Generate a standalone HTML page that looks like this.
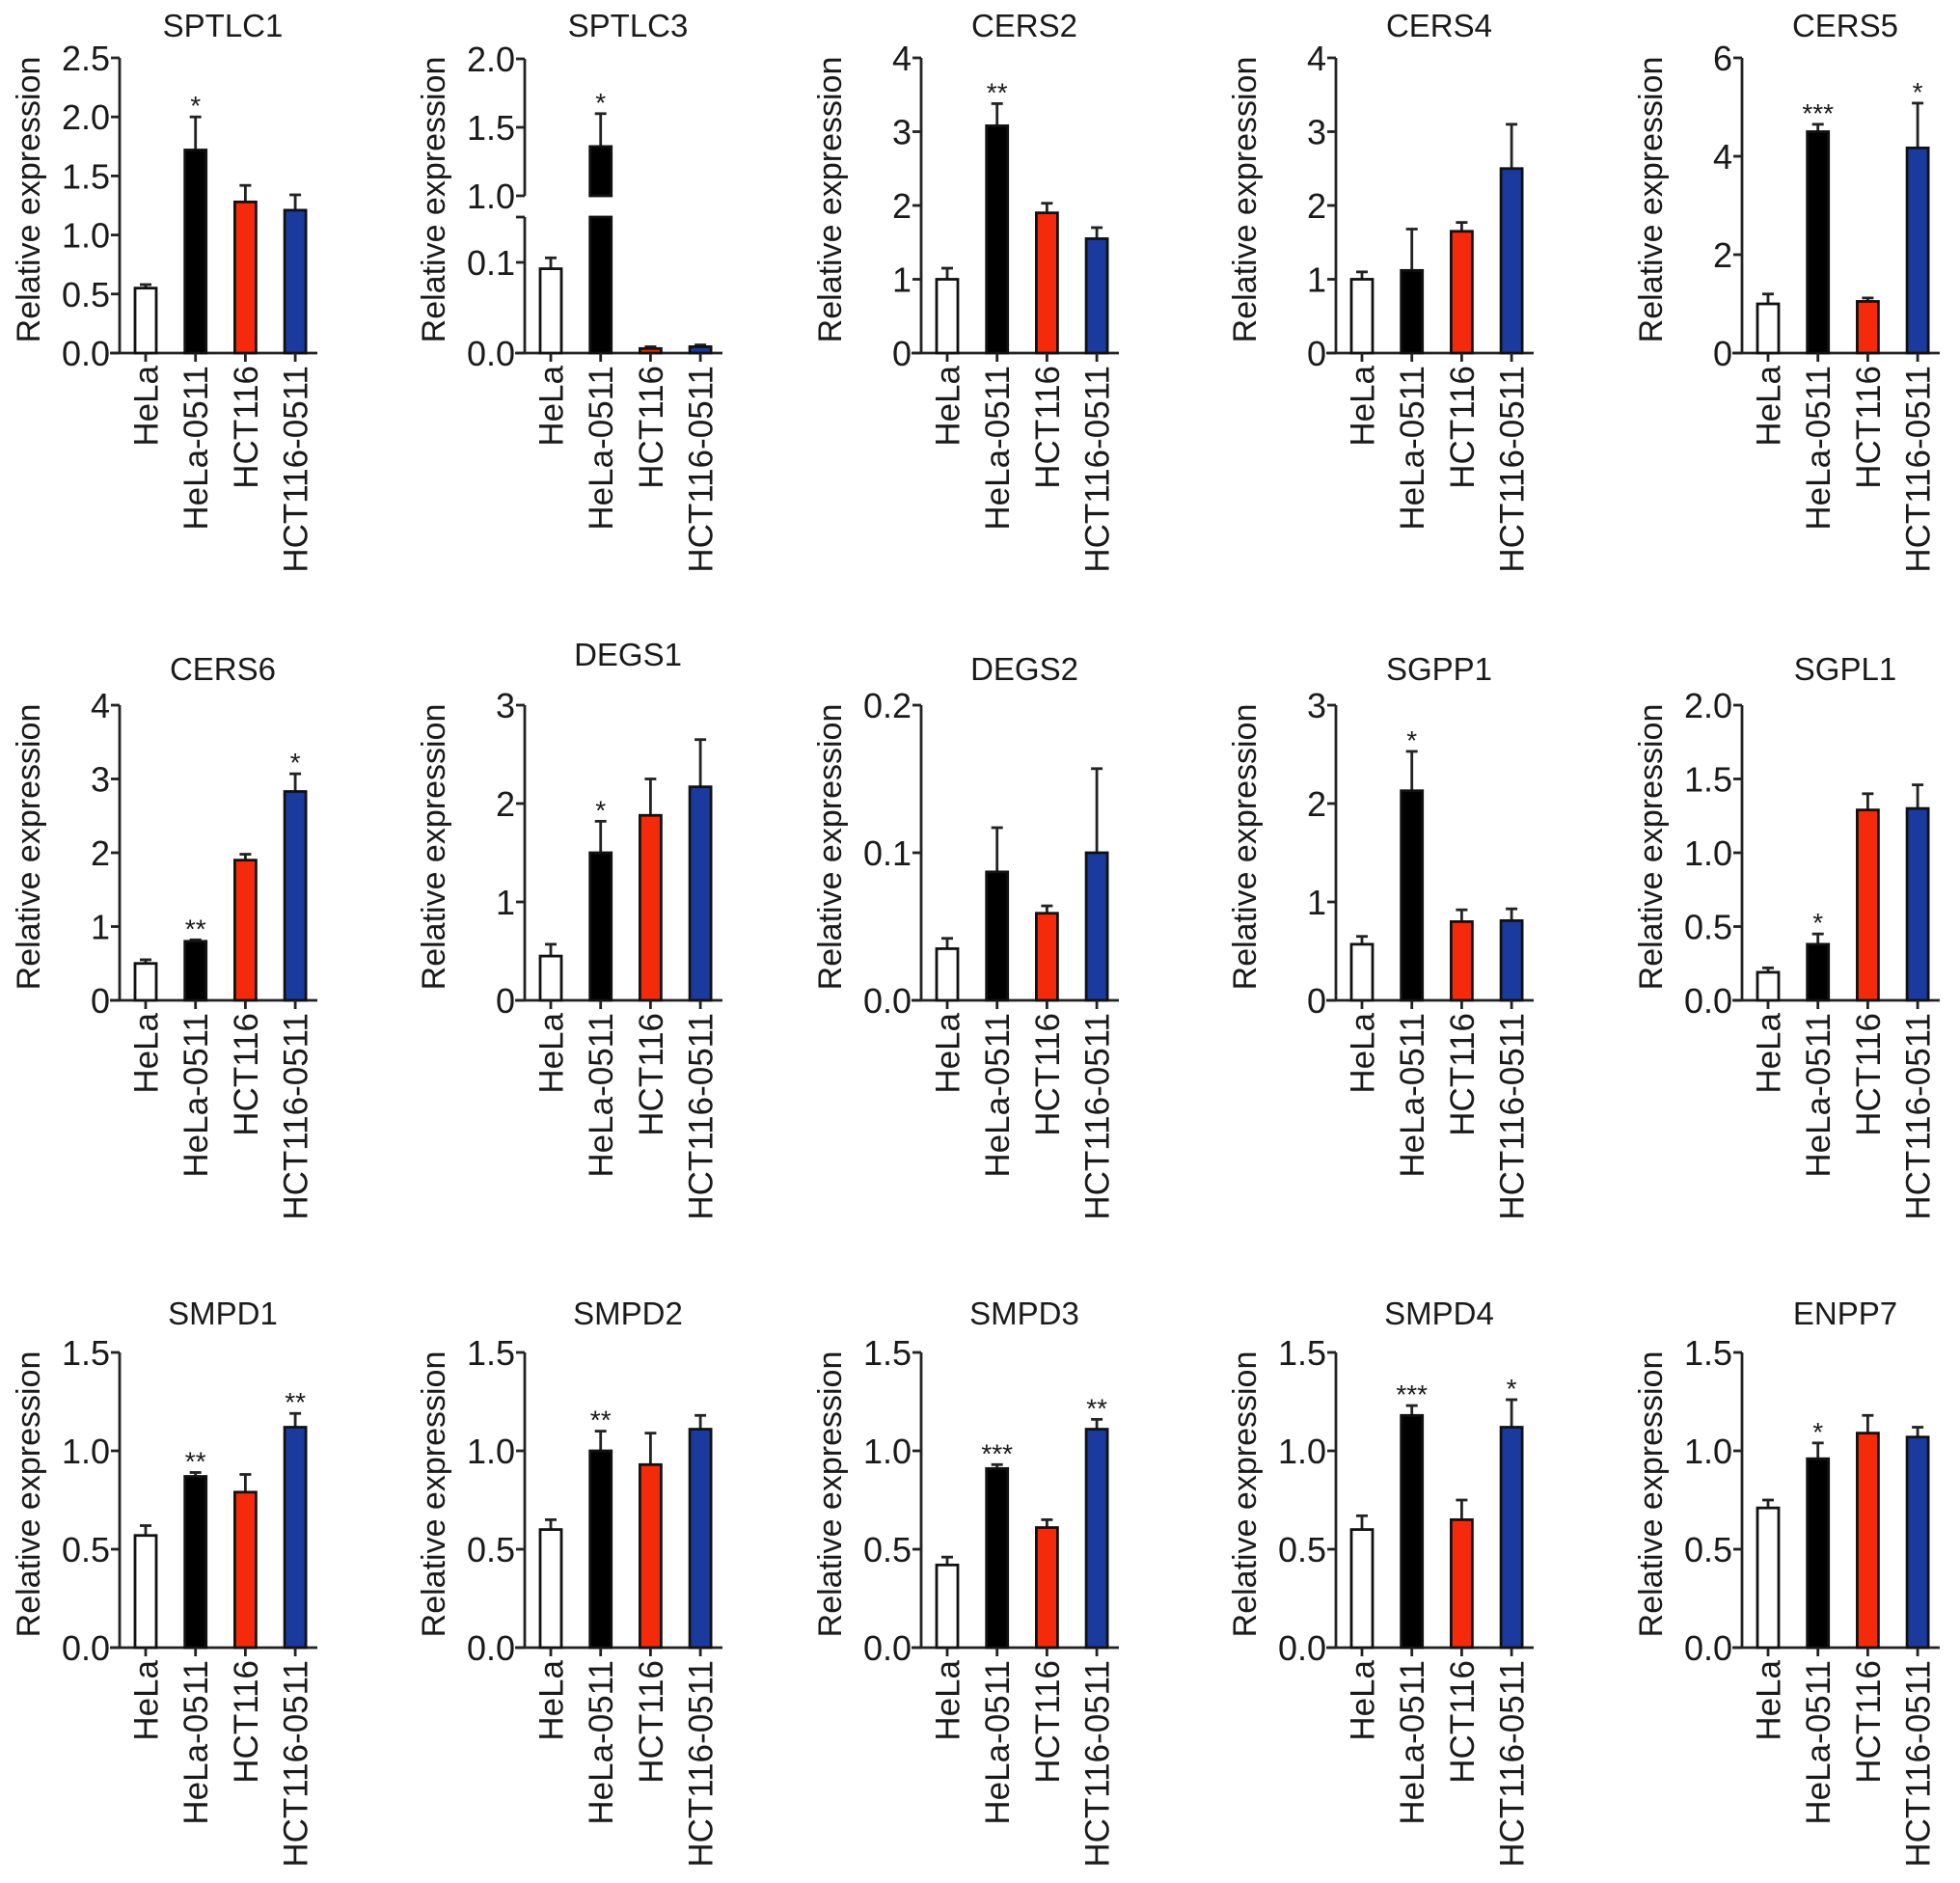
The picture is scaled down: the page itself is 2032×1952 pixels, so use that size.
<!DOCTYPE html>
<html><head><meta charset="utf-8"><style>
html,body{margin:0;padding:0;background:#fff}
svg{display:block}
text{font-family:"Liberation Sans",Arial,sans-serif;fill:#1a1a1a}
</style></head><body>
<svg id="fig" width="2032" height="1952" viewBox="0 0 2032 1952" xmlns="http://www.w3.org/2000/svg"></svg>
<script>
const categories = ["HeLa","HeLa-0511","HCT116","HCT116-0511"];
const panelTitles = ["SPTLC1","SPTLC3","CERS2","CERS4","CERS5","CERS6","DEGS1","DEGS2","SGPP1","SGPL1","SMPD1","SMPD2","SMPD3","SMPD4","ENPP7"];
const panelMax = [2.5,2,4,4,6,4,3,0.2,3,2,1.5,1.5,1.5,1.5,1.5];
const tickLabels = [
 ["0.0","0.5","1.0","1.5","2.0","2.5"],
 ["0.0","0.1","1.0","1.5","2.0"],
 ["0","1","2","3","4"],["0","1","2","3","4"],["0","2","4","6"],
 ["0","1","2","3","4"],["0","1","2","3"],["0.0","0.1","0.2"],["0","1","2","3"],
 ["0.0","0.5","1.0","1.5","2.0"],
 ["0.0","0.5","1.0","1.5"],["0.0","0.5","1.0","1.5"],["0.0","0.5","1.0","1.5"],["0.0","0.5","1.0","1.5"],["0.0","0.5","1.0","1.5"]
];
const meanValues = [
 [0.55,1.72,1.28,1.21],[0.093,1.36,0.005,0.007],[1.0,3.08,1.9,1.55],[1.0,1.12,1.65,2.5],[1.0,4.5,1.05,4.17],
 [0.5,0.8,1.9,2.83],[0.45,1.5,1.88,2.17],[0.035,0.087,0.059,0.1],[0.57,2.13,0.8,0.81],[0.19,0.38,1.29,1.3],
 [0.57,0.87,0.79,1.12],[0.6,1.0,0.93,1.11],[0.42,0.91,0.61,1.11],[0.6,1.18,0.65,1.12],[0.71,0.96,1.09,1.07]
];
const errorTops = [
 [0.58,2.0,1.42,1.34],[0.105,1.6,0.007,0.009],[1.15,3.38,2.03,1.7],[1.1,1.68,1.77,3.1],[1.2,4.65,1.12,5.08],
 [0.55,0.82,1.98,3.07],[0.57,1.82,2.25,2.65],[0.042,0.117,0.064,0.157],[0.65,2.53,0.92,0.93],[0.22,0.45,1.4,1.46],
 [0.62,0.89,0.88,1.19],[0.65,1.1,1.09,1.18],[0.46,0.93,0.65,1.16],[0.67,1.23,0.75,1.26],[0.75,1.04,1.18,1.12]
];
const stars = [
 ["","*","",""],["","*","",""],["","**","",""],["","","",""],["","***","","*"],
 ["","**","","*"],["","*","",""],["","","",""],["","*","",""],["","*","",""],
 ["","**","","**"],["","**","",""],["","***","","**"],["","***","","*"],["","*","",""]
];
const colXs=[124,544,955,1385,1806];
const rowZero=[366,1037,1708];
const rowTitleY=[38,705,1373];
const PH=306, PW=205;
const fills=["#ffffff","#000000","#f52a0a","#1b3a9e"];
const svg=document.getElementById('fig');
const NS="http://www.w3.org/2000/svg";
function mk(tag,attrs,parent){const e=document.createElementNS(NS,tag);for(const k in attrs)e.setAttribute(k,attrs[k]);(parent||svg).appendChild(e);return e;}

panelTitles.forEach((title,p)=>{
  const ax=colXs[p%5], zero=rowZero[Math.floor(p/5)], top=zero-PH;
  const g=mk('g',{});
  
  
  let yScale, broken = (p===1);
  if(broken){
    yScale=v=> v<=0.15 ? zero - v/0.1*94 : (zero-163) - (v-1)*142;
  } else {
    yScale=v=> zero - v/panelMax[p]*PH;
  }
  const tY = (title==="DEGS1") ? rowTitleY[1]-15 : rowTitleY[Math.floor(p/5)];
  const t=mk('text',{x:ax+107,y:tY,'text-anchor':'middle','font-size':33},g);
  t.textContent=title;
  
  
  const yt=mk('text',{transform:`translate(${ax-83},${(top+zero)/2-6}) rotate(-90)`,'text-anchor':'middle','font-size':34},g);
  yt.textContent="Relative expression";
  
  
  if(broken){
    const l1=mk('line',{x1:ax,y1:zero,x2:ax,y2:yScale(0.15),stroke:'#222','stroke-width':2.8},g);
    
    
    mk('line',{x1:ax-9,y1:yScale(0.15),x2:ax,y2:yScale(0.15),stroke:'#222','stroke-width':2.8},g);
    const l2=mk('line',{x1:ax,y1:yScale(1),x2:ax,y2:yScale(2),stroke:'#222','stroke-width':2.8},g);
    
    
  } else {
    const l=mk('line',{x1:ax,y1:zero,x2:ax,y2:top,stroke:'#222','stroke-width':2.8},g);
    
    
  }
  const xl=mk('line',{x1:ax-10,y1:zero,x2:ax+PW,y2:zero,stroke:'#222','stroke-width':2.8},g);
  
  
  tickLabels[p].forEach(lab=>{
    const v=parseFloat(lab), y=yScale(v);
    mk('line',{x1:ax-9,y1:y,x2:ax,y2:y,stroke:'#222','stroke-width':2.8},g);
    const tt=mk('text',{x:ax-10,y:y+13,'text-anchor':'end','font-size':36},g);
    tt.textContent=lab;
    
    
  });
  categories.forEach((c,i)=>{
    const cx=ax+27+i*51.7, v=meanValues[p][i], e=errorTops[p][i];
    const ey=yScale(e), by=yScale(v);
    const el=mk('line',{x1:cx,y1:by,x2:cx,y2:ey,stroke:'#222','stroke-width':2.8},g);
    
    
    mk('line',{x1:cx-6,y1:ey,x2:cx+6,y2:ey,stroke:'#222','stroke-width':2.8},g);
    if(broken && v>0.15){
      const r1=mk('rect',{x:cx-11,y:yScale(0.15),width:22,height:zero-yScale(0.15),fill:fills[i],stroke:'#111','stroke-width':2.8},g);
      
      
      const r2=mk('rect',{x:cx-11,y:by,width:22,height:yScale(1)-by,fill:fills[i],stroke:'#111','stroke-width':2.8},g);
      
      
    } else {
      const r=mk('rect',{x:cx-11,y:by,width:22,height:Math.max(zero-by,1),fill:fills[i],stroke:'#111','stroke-width':2.8},g);
      
      
    }
    mk('line',{x1:cx,y1:zero,x2:cx,y2:zero+9,stroke:'#222','stroke-width':2.8},g);
    if(stars[p][i]){
      const s=mk('text',{x:cx,y:ey-2,'text-anchor':'middle','font-size':28},g);
      s.textContent=stars[p][i];
      
      
    }
    const ct=mk('text',{transform:`translate(${cx+12.5},${zero+13}) rotate(-90)`,'text-anchor':'end','font-size':35},g);
    ct.textContent=c;
    
    
  });
});
</script>
</body></html>
